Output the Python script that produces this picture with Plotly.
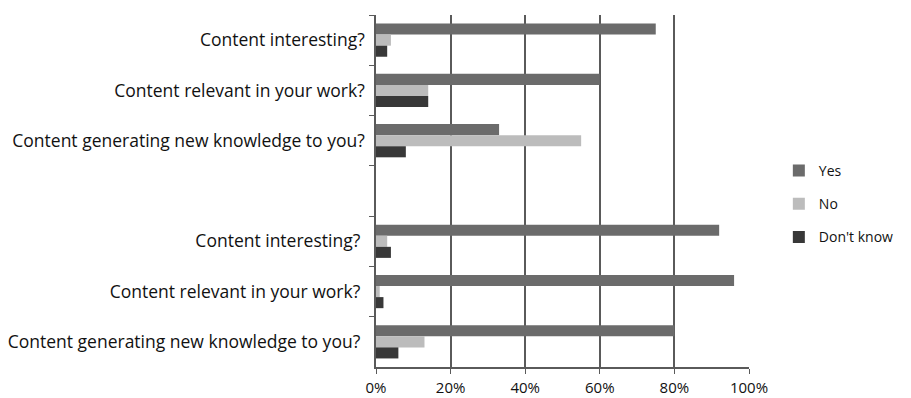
import plotly.graph_objects as go

categories = [
    "Content interesting?",
    "Content relevant in your work?",
    "Content generating new knowledge to you?",
    " ",
    "Content interesting? ",
    "Content relevant in your work? ",
    "Content generating new knowledge to you? ",
]
yes_vals = [75, 60, 33, None, 92, 96, 80]
no_vals = [4, 14, 55, None, 3, 1, 13]
dk_vals = [3, 14, 8, None, 4, 2, 6]
x_ticks = [0, 20, 40, 60, 80, 100]
x_tick_labels = ["0%", "20%", "40%", "60%", "80%", "100%"]

series = [
    ("Yes", yes_vals, "#6b6b6b"),
    ("No", no_vals, "#bcbcbc"),
    ("Don't know", dk_vals, "#383838"),
]

fig = go.Figure()
for name, vals, color in series:
    fig.add_trace(go.Bar(
        y=categories, x=vals, name=name, orientation="h",
        marker=dict(color=color, line=dict(width=0)),
        legendgroup=name,
    ))

font_family = "Open Sans, Liberation Sans, sans-serif"
fig.update_layout(
    width=911, height=398,
    margin=dict(l=376, r=160, t=15, b=31),
    paper_bgcolor="white", plot_bgcolor="white",
    barmode="group", bargap=0.34, bargroupgap=0,
    font=dict(family=font_family, size=15, color="#111111"),
    showlegend=True,
    legend=dict(x=1.08, y=0.463, xanchor="left", yanchor="middle",
                traceorder="grouped", tracegroupgap=12, itemwidth=30,
                font=dict(size=14, color="#111111"),
                bgcolor="rgba(0,0,0,0)"),
    xaxis=dict(range=[0, 100], tickvals=x_ticks, ticktext=x_tick_labels,
               automargin=False,
               showgrid=True, gridcolor="#5a5a5a", gridwidth=1.5,
               showline=True, linecolor="#5a5a5a", linewidth=1.5,
               ticks="outside", ticklen=5, tickcolor="#5a5a5a",
               zeroline=False, tickfont=dict(size=15), ticklabelstandoff=1),
    yaxis=dict(type="category", categoryorder="array", categoryarray=categories,
               autorange="reversed", automargin=False,
               showline=True, linecolor="#5a5a5a",
               linewidth=1.5, ticks="outside", ticklen=5, tickcolor="#5a5a5a",
               tickson="boundaries", showgrid=False, tickfont=dict(size=17.5),
               ticklabelstandoff=6),
)

fig.write_html("out.html")
